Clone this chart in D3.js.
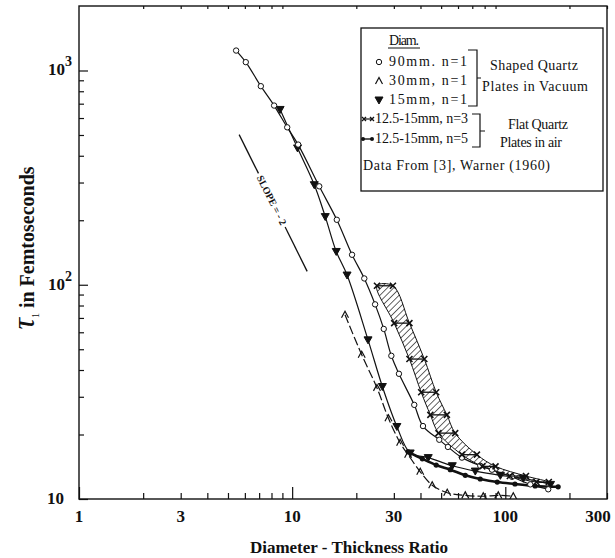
<!DOCTYPE html>
<html>
<head>
<meta charset="utf-8">
<script src="https://cdn.jsdelivr.net/npm/d3@7"></script>
<style>
  body { margin: 0; background: #fff; }
  text { font-family: "Liberation Serif", "Times New Roman", serif; fill: #111; }
</style>
</head>
<body>
<div id="chart"></div>
<script>
var width = 615, height = 558;
var margin = {left: 79, right: 8, top: 6, bottom: 59};

// 90mm, n=1 (open circles)
var ratio90 = [5.46, 6.06, 7.13, 8.23, 9.48, 10.67, 13.4, 16.2, 19.1, 21.8, 24.5, 26.9, 29.2, 31.7, 37.4, 41.1, 49.0, 53.8, 62.6, 76.3, 86.6, 107.5, 131, 159];
var tau90 = [1239, 1094, 845, 686, 543, 451, 288, 201, 138, 107, 81, 62.2, 46.6, 38.4, 27.5, 21.9, 18.9, 17.5, 15.6, 14.3, 13.7, 12.7, 11.7, 11.1];
// 30mm, n=1 (carets, dashed)
var ratio30 = [17.7, 21.2, 25.0, 28.3, 32.1, 35.0, 39.9, 45.4, 53.4, 64.9, 78.8, 92.7, 109];
var tau30 = [72.4, 47.1, 33.0, 23.8, 18.3, 16.1, 13.4, 11.6, 10.7, 10.4, 10.3, 10.4, 10.3];
// 15mm, n=1 (filled triangles)
var ratio15 = [8.78, 10.6, 12.7, 14.3, 16.1, 18.1, 22.7, 26.5, 31.0, 35.8, 43.5, 56.4, 72.3, 94.8, 121.5, 163];
var tau15 = [658, 435, 293, 208, 143, 111, 55.3, 33.5, 21.8, 16.4, 15.6, 14.3, 13.5, 12.9, 12.5, 11.7];
// 12.5-15mm, n=3 (x--x ranges, hatched band)
var tauN3 = [98.9, 66.2, 45.0, 31.5, 24.7, 20.3, 16.1, 14.2, 12.8, 12.0];
var ratioN3lo = [25.0, 30.1, 35.5, 40.3, 44.5, 48.6, 62.6, 78, 105, 140];
var ratioN3hi = [29.7, 35.5, 41.7, 47.4, 53.2, 58.2, 73.6, 90, 125, 160];
// 12.5-15mm, n=5 (dots)
var ratioN5 = [35.0, 40.8, 47.4, 55.2, 64.9, 76.3, 91.7, 111, 138, 177];
var tauN5 = [16.6, 15.4, 14.4, 13.7, 12.9, 12.4, 12.0, 11.75, 11.5, 11.4];
// slope = -2 guide line, two pieces around its label
var slopeRatio = [5.64, 6.95, 9.27, 11.76];
var slopeTau = [502, 331, 186, 115.5];

var xLabels = [1, 3, 10, 30, 100, 300];
var xMinor = [2, 3, 4, 5, 6, 7, 8, 9, 20, 30, 40, 50, 60, 70, 80, 90, 200, 300];
var xDecades = [1, 10, 100];
var yMinor = [20, 30, 40, 50, 60, 70, 80, 90, 200, 300, 400, 500, 600, 700, 800, 900];
var yDecades = [10, 100, 1000];
var yExp = ["", "2", "3"];

var svg = d3.select("#chart").append("svg")
    .attr("width", width)
    .attr("height", height);

var x = d3.scaleLog().domain([1, 300]).range([margin.left, width - margin.right]);
var y = d3.scaleLog().domain([10, 2000]).range([height - margin.bottom, margin.top]);

var defs = svg.append("defs");
var hatch = defs.append("pattern")
    .attr("id", "hatch")
    .attr("patternUnits", "userSpaceOnUse")
    .attr("width", 4.5).attr("height", 4.5)
    .attr("patternTransform", "rotate(45)");
hatch.append("line")
    .attr("x1", 0).attr("y1", 0).attr("x2", 0).attr("y2", 4.5)
    .attr("stroke", "#111").attr("stroke-width", 1.3);

defs.append("clipPath").attr("id", "plotclip")
  .append("rect")
    .attr("x", margin.left).attr("y", margin.top)
    .attr("width", width - margin.right - margin.left)
    .attr("height", height - margin.bottom - margin.top);

// axes: ticks point inward
var bottom = height - margin.bottom;
svg.append("g").attr("transform", "translate(0," + bottom + ")")
    .call(d3.axisBottom(x).tickValues(xMinor).tickSize(-6).tickFormat(""));
svg.append("g").attr("transform", "translate(0," + bottom + ")")
    .call(d3.axisBottom(x).tickValues(xDecades).tickSize(-12).tickFormat(""));
svg.append("g").attr("transform", "translate(0," + margin.top + ")")
    .call(d3.axisTop(x).tickValues(xMinor).tickSize(-3).tickFormat(""));
svg.append("g").attr("transform", "translate(" + margin.left + ",0)")
    .call(d3.axisLeft(y).tickValues(yMinor).tickSize(-5).tickFormat(""));
svg.append("g").attr("transform", "translate(" + margin.left + ",0)")
    .call(d3.axisLeft(y).tickValues(yDecades).tickSize(-9).tickFormat(""));
svg.selectAll(".domain").remove();
svg.selectAll(".tick line").attr("stroke", "#111").attr("stroke-width", 1.2);

svg.append("rect")
    .attr("x", margin.left).attr("y", margin.top)
    .attr("width", width - margin.right - margin.left)
    .attr("height", bottom - margin.top)
    .attr("fill", "none").attr("stroke", "#111").attr("stroke-width", 1.4);

svg.selectAll(".xlab").data(xLabels).enter().append("text")
    .attr("class", "xlab")
    .attr("x", function(d) { return Math.min(x(d), 598); })
    .attr("y", 522)
    .attr("text-anchor", "middle")
    .style("font-size", "17px").style("font-weight", "bold")
    .text(function(d) { return d; });

var ylab = svg.selectAll(".ylab").data(yDecades).enter().append("text")
    .attr("class", "ylab")
    .attr("y", function(d) { return y(d) + 5; })
    .attr("text-anchor", "end")
    .style("font-size", "17px").style("font-weight", "bold");
ylab.append("tspan").text("10");
ylab.append("tspan")
    .attr("dy", -9).style("font-size", "14px")
    .text(function(d, i) { return yExp[i]; });
ylab.attr("x", function(d, i) { return i ? 72 : 64; });

svg.append("text")
    .attr("x", 349).attr("y", 553)
    .attr("text-anchor", "middle")
    .style("font-size", "17px").style("font-weight", "bold")
    .text("Diameter - Thickness Ratio");

var ytitle = svg.append("text")
    .attr("transform", "translate(34,248) rotate(-90)")
    .attr("text-anchor", "middle")
    .style("font-size", "20px").style("font-weight", "bold");
ytitle.append("tspan").style("font-size", "32px").style("font-style", "italic").style("font-weight", "normal").text("τ");
ytitle.append("tspan").attr("dy", 5).style("font-size", "10px").style("font-weight", "normal").text("1");
ytitle.append("tspan").attr("dy", -5).text("  in  Femtoseconds");

// marker shapes
function marker(g, kind) {
  if (kind === "circle") {
    g.append("circle").attr("r", 2.7).attr("fill", "#fff").attr("stroke", "#111").attr("stroke-width", 1);
  } else if (kind === "caret") {
    g.append("path").attr("d", "M-3.5,3L0,-3.5L3.5,3").attr("fill", "none").attr("stroke", "#111").attr("stroke-width", 1.2);
  } else if (kind === "tri") {
    g.append("path").attr("d", "M-4,-3L4,-3L0,4Z").attr("fill", "#111").attr("stroke", "#111").attr("stroke-width", 1);
  } else if (kind === "cross") {
    g.append("path").attr("d", "M-3,-3L3,3M-3,3L3,-3").attr("stroke", "#111").attr("stroke-width", 1.6);
  } else if (kind === "dot") {
    g.append("circle").attr("r", 2.6).attr("fill", "#111");
  }
}

var plot = svg.append("g").attr("clip-path", "url(#plotclip)");

// hatched band for n=3
var bandPts = ratioN3lo.map(function(r, i) { return [x(r), y(tauN3[i])]; })
    .concat(ratioN3hi.map(function(r, i) { return [x(r), y(tauN3[i])]; }).reverse());
plot.append("path")
    .attr("d", d3.line().curve(d3.curveCatmullRomClosed)(bandPts))
    .attr("fill", "url(#hatch)")
    .attr("stroke", "#111").attr("stroke-width", 1);

var line = d3.line()
    .x(function(d) { return x(d[0]); })
    .y(function(d) { return y(d[1]); })
    .curve(d3.curveCatmullRom);

function series(rs, ts, kind, dash, sw) {
  var pts = rs.map(function(r, i) { return [r, ts[i]]; });
  plot.append("path")
      .attr("d", line(pts))
      .attr("fill", "none")
      .attr("stroke", "#111")
      .attr("stroke-width", sw)
      .attr("stroke-dasharray", dash);
  plot.selectAll(".m-" + kind).data(pts).enter().append("g")
      .attr("class", "m-" + kind)
      .attr("transform", function(d) { return "translate(" + x(d[0]) + "," + y(d[1]) + ")"; })
      .each(function() { marker(d3.select(this), kind); });
}

series(ratioN5, tauN5, "dot", null, 2.6);
series(ratio30, tau30, "caret", "9,3", 1.2);
series(ratio15, tau15, "tri", null, 1.2);
series(ratio90, tau90, "circle", null, 1.2);

// x--x pairs
tauN3.forEach(function(t, i) {
  plot.append("line")
      .attr("x1", x(ratioN3lo[i])).attr("x2", x(ratioN3hi[i]))
      .attr("y1", y(t)).attr("y2", y(t))
      .attr("stroke", "#111").attr("stroke-width", 1.3);
  [ratioN3lo[i], ratioN3hi[i]].forEach(function(r) {
    marker(plot.append("g").attr("transform", "translate(" + x(r) + "," + y(t) + ")"), "cross");
  });
});

// slope guide
[0, 2].forEach(function(k) {
  svg.append("line")
      .attr("x1", x(slopeRatio[k])).attr("y1", y(slopeTau[k]))
      .attr("x2", x(slopeRatio[k + 1])).attr("y2", y(slopeTau[k + 1]))
      .attr("stroke", "#111").attr("stroke-width", 1.3);
});
var sx = (x(slopeRatio[1]) + x(slopeRatio[2])) / 2,
    sy = (y(slopeTau[1]) + y(slopeTau[2])) / 2,
    ang = Math.atan2(y(slopeTau[2]) - y(slopeTau[1]), x(slopeRatio[2]) - x(slopeRatio[1])) * 180 / Math.PI;
svg.append("text")
    .attr("transform", "translate(" + sx + "," + sy + ") rotate(" + ang + ")")
    .attr("text-anchor", "middle").attr("dy", 3.5)
    .style("font-size", "10px").style("font-weight", "bold")
    .text("SLOPE = - 2");

// legend
var lg = svg.append("g");
lg.append("rect")
    .attr("x", 361).attr("y", 28).attr("width", 242).attr("height", 163)
    .attr("fill", "#fff").attr("stroke", "#111").attr("stroke-width", 1.3);
function ltext(tx, ty, s, len) {
  var t = lg.append("text").attr("x", tx).attr("y", ty).style("font-size", "14px").text(s);
  if (len) t.attr("textLength", len).attr("lengthAdjust", "spacing");
  return t;
}
ltext(389, 45, "Diam.", 30);
lg.append("line").attr("x1", 388).attr("x2", 420).attr("y1", 48).attr("y2", 48).attr("stroke", "#111");
ltext(389, 66, "90mm. n=1", 78);
ltext(389, 85, "30mm, n=1", 78);
ltext(389, 104, "15mm, n=1", 78);
marker(lg.append("g").attr("transform", "translate(379,62)"), "circle");
marker(lg.append("g").attr("transform", "translate(379,81)"), "caret");
marker(lg.append("g").attr("transform", "translate(379,100)"), "tri");
lg.append("path").attr("d", "M468,50H477V106H468M477,78L481,78")
    .attr("fill", "none").attr("stroke", "#111").attr("stroke-width", 1.2);
ltext(490, 70, "Shaped Quartz", 88);
ltext(482, 91, "Plates in Vacuum", 106);

ltext(375, 123, "12.5-15mm, n=3", 93);
lg.append("line").attr("x1", 364).attr("x2", 372).attr("y1", 119).attr("y2", 119).attr("stroke", "#111").attr("stroke-width", 1.2);
[364, 372].forEach(function(px) {
  lg.append("path").attr("d", "M" + (px - 2) + ",117l4,4m-4,0l4,-4").attr("stroke", "#111").attr("stroke-width", 1.3);
});
ltext(375, 143, "12.5-15mm, n=5", 93);
lg.append("line").attr("x1", 363).attr("x2", 372).attr("y1", 139).attr("y2", 139).attr("stroke", "#111").attr("stroke-width", 1.4);
[363, 372].forEach(function(px) {
  lg.append("circle").attr("cx", px).attr("cy", 139).attr("r", 2).attr("fill", "#111");
});
lg.append("path").attr("d", "M472,114H480V147H472M480,131L485,131")
    .attr("fill", "none").attr("stroke", "#111").attr("stroke-width", 1.2);
ltext(508, 129, "Flat Quartz", 60);
ltext(500, 147, "Plates in air", 62);
ltext(363, 170, "Data From [3], Warner (1960)", 187);
</script>
</body>
</html>
